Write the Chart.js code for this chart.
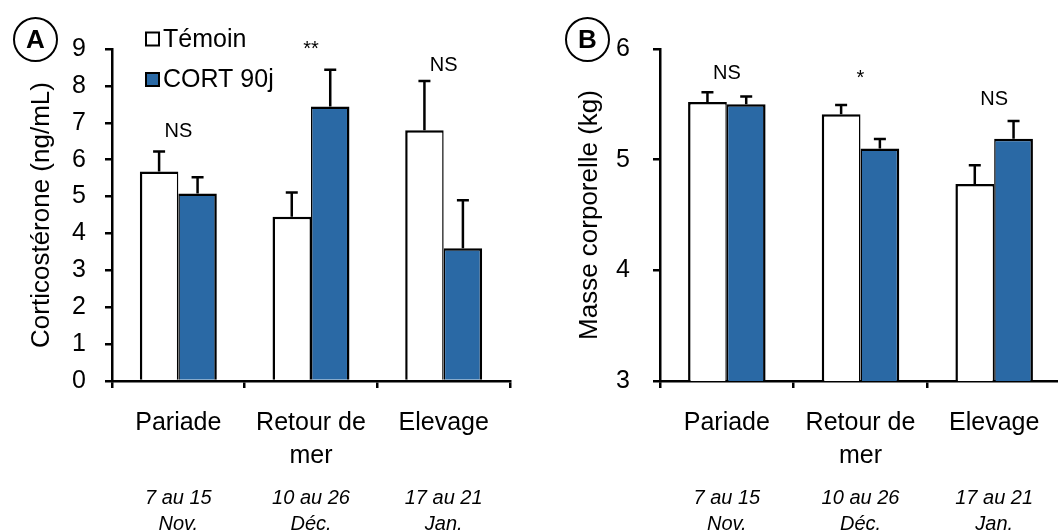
<!DOCTYPE html>
<html lang="fr">

<head>
    <meta charset="UTF-8">
    <title>Corticostérone et masse corporelle</title>
    <script src="https://cdn.jsdelivr.net/npm/chart.js"></script>
    <style>
        body {
            margin: 0;
            background: #fff;
            overflow: hidden;
            font-family: "Liberation Sans", Arial, sans-serif;
        }

        .panel {
            position: absolute;
            top: 0;
        }

        .tag {
            position: absolute;
            width: 41px;
            height: 41px;
            border: 2px solid #000;
            border-radius: 50%;
            font-weight: bold;
            font-size: 26px;
            line-height: 41px;
            text-align: center;
        }
    </style>
</head>

<body>
    <div class="panel" style="left:0"><canvas id="chartA" width="530" height="531"></canvas></div>
    <div class="panel" style="left:530px"><canvas id="chartB" width="545" height="531"></canvas></div>
    <div class="tag" style="left:13px;top:17px">A</div>
    <div class="tag" style="left:565px;top:17px">B</div>

    <script>
        const categories = [['Pariade'], ['Retour de', 'mer'], ['Elevage']];
        const periods = [['7 au 15', 'Nov.'], ['10 au 26', 'Déc.'], ['17 au 21', 'Jan.']];
        const seriesNames = ['Témoin', 'CORT 90j'];
        const seriesColors = ['#ffffff', '#2A69A5'];

        // A : corticostérone (ng/mL)
        const cortTemoin = [5.68, 4.45, 6.80];
        const cortTemoinErr = [0.54, 0.66, 1.33];
        const cortCort = [5.08, 7.44, 3.60];
        const cortCortErr = [0.44, 1.00, 1.30];
        const cortSig = ['NS', '**', 'NS'];
        const cortSigY = [6.76, 8.99, 8.55];

        // B : masse corporelle (kg)
        const massTemoin = [5.52, 5.41, 4.78];
        const massTemoinErr = [0.09, 0.085, 0.17];
        const massCort = [5.50, 5.10, 5.19];
        const massCortErr = [0.07, 0.087, 0.16];
        const massSig = ['NS', '*', 'NS'];
        const massSigY = [5.78, 5.73, 5.54];

        Chart.defaults.font.family = '"Liberation Sans", Arial, sans-serif';
        Chart.defaults.color = '#000';

        const errorBarPlugin = {
            id: 'errorBars',
            afterDatasetsDraw(chart, args, opts) {
                const ctx = chart.ctx;
                const y = chart.scales.y;
                ctx.save();
                ctx.strokeStyle = '#000';
                ctx.lineWidth = 2.5;
                chart.data.datasets.forEach((ds, i) => {
                    const meta = chart.getDatasetMeta(i);
                    meta.data.forEach((bar, j) => {
                        const top = y.getPixelForValue(ds.data[j] + opts.errors[i][j]);
                        ctx.beginPath();
                        ctx.moveTo(bar.x, bar.y);
                        ctx.lineTo(bar.x, top);
                        ctx.moveTo(bar.x - 6, top);
                        ctx.lineTo(bar.x + 6, top);
                        ctx.stroke();
                    });
                });
                // significance labels
                ctx.fillStyle = '#000';
                ctx.font = '20px "Liberation Sans", Arial, sans-serif';
                ctx.textAlign = 'center';
                ctx.textBaseline = 'middle';
                opts.sig.forEach((s, j) => {
                    ctx.fillText(s, chart.scales.x.getPixelForValue(j), y.getPixelForValue(opts.sigY[j]));
                });
                ctx.restore();
            }
        };

        const boxLegendPlugin = {
            id: 'boxLegend',
            afterDraw(chart, args, opts) {
                if (!opts.show) return;
                const ctx = chart.ctx;
                ctx.save();
                ctx.font = '25px "Liberation Sans", Arial, sans-serif';
                ctx.textBaseline = 'middle';
                chart.data.datasets.forEach((ds, i) => {
                    const yy = opts.y + i * opts.step;
                    ctx.fillStyle = ds.backgroundColor;
                    ctx.fillRect(opts.x, yy - 6.5, 13, 13);
                    ctx.strokeStyle = '#000';
                    ctx.lineWidth = 2;
                    ctx.strokeRect(opts.x, yy - 6.5, 13, 13);
                    ctx.fillStyle = '#000';
                    ctx.fillText(ds.label, opts.x + 17, yy + 1);
                });
                ctx.restore();
            }
        };

        function makeChart(id, d1, d2, e1, e2, sig, sigY, yMin, yMax, yTitle, opt) {
            new Chart(document.getElementById(id), {
                type: 'bar',
                data: {
                    labels: categories,
                    datasets: [{
                        label: seriesNames[0],
                        data: d1,
                        backgroundColor: seriesColors[0],
                        borderColor: '#000',
                        borderWidth: { top: 2.5, left: 2.5, right: 1.5, bottom: 0 }
                    }, {
                        label: seriesNames[1],
                        data: d2,
                        backgroundColor: seriesColors[1],
                        borderColor: '#000',
                        borderWidth: { top: 2.5, left: 1.5, right: 2.5, bottom: 0 }
                    }]
                },
                options: {
                    responsive: false,
                    animation: false,
                    events: [],
                    categoryPercentage: 0.58,
                    barPercentage: 1.0,
                    layout: {
                        padding: { top: 49, right: opt.padRight, bottom: 0, left: 0 }
                    },
                    plugins: {
                        legend: { display: false },
                        tooltip: { enabled: false },
                        errorBars: { errors: [e1, e2], sig: sig, sigY: sigY },
                        boxLegend: { show: opt.legend, x: 146, y: 39, step: 40.5 }
                    },
                    scales: {
                        x: {
                            type: 'category',
                            position: 'bottom',
                            weight: 0,
                            grid: {
                                offset: true,
                                drawOnChartArea: false,
                                tickLength: 7,
                                lineWidth: 2.5,
                                color: '#000'
                            },
                            border: { color: '#000', width: 2.5 },
                            ticks: {
                                font: { size: 25, lineHeight: 1.32 },
                                padding: 19,
                                maxRotation: 0,
                                autoSkip: false
                            },
                            afterFit: s => { s.height = 100; }
                        },
                        x2: {
                            type: 'category',
                            position: 'bottom',
                            weight: 1,
                            labels: periods,
                            grid: { display: false, drawTicks: false },
                            border: { display: false },
                            ticks: {
                                font: { size: 20, style: 'italic', lineHeight: 1.3 },
                                padding: 4,
                                maxRotation: 0,
                                autoSkip: false
                            },
                            afterFit: s => { s.height = 50; }
                        },
                        y: {
                            min: yMin,
                            max: yMax,
                            ticks: {
                                stepSize: 1,
                                font: { size: 25 },
                                padding: opt.tickPad
                            },
                            grid: {
                                drawOnChartArea: false,
                                tickLength: 7,
                                lineWidth: 2.5,
                                color: '#000'
                            },
                            border: { color: '#000', width: 2.5 },
                            title: {
                                display: true,
                                text: yTitle,
                                font: { size: 26, lineHeight: 1.2 },
                                padding: { top: opt.titlePad, bottom: 0 }
                            },
                            afterFit: s => { s.width = opt.axisWidth; }
                        }
                    }
                },
                plugins: [errorBarPlugin, boxLegendPlugin]
            });
        }

        makeChart('chartA', cortTemoin, cortCort, cortTemoinErr, cortCortErr, cortSig, cortSigY,
            0, 9, 'Corticostérone (ng/mL)',
            { padRight: 20, axisWidth: 112, titlePad: 26, tickPad: 19, legend: true });

        makeChart('chartB', massTemoin, massCort, massTemoinErr, massCortErr, massSig, massSigY,
            3, 6, 'Masse corporelle (kg)',
            { padRight: 14, axisWidth: 130, titlePad: 44, tickPad: 23, legend: false });
    </script>
</body>

</html>
